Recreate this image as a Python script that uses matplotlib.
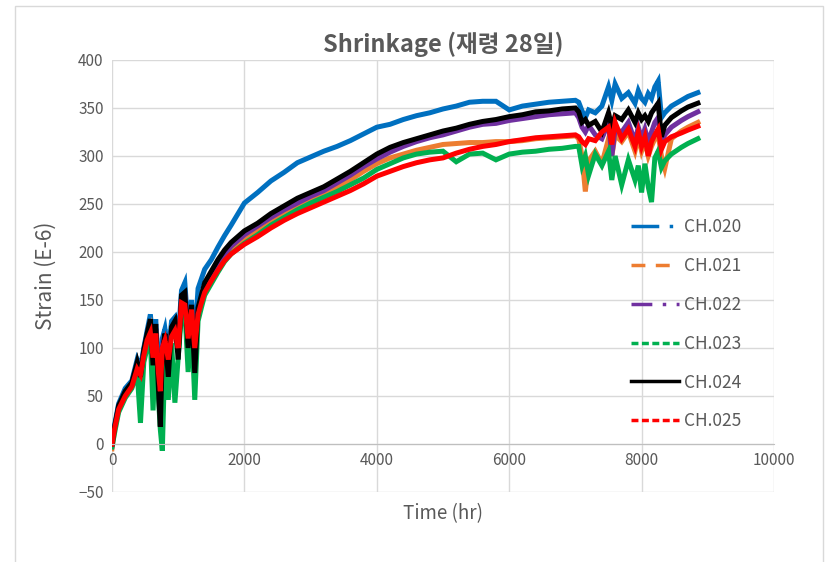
import matplotlib
matplotlib.use("Agg")
import matplotlib.pyplot as plt
from matplotlib.lines import Line2D
from matplotlib.patches import Rectangle

plt.rcParams['font.family'] = ['Noto Sans CJK KR', 'DejaVu Sans']

# 시간 (hr)
time_hr = [0, 40, 100, 200, 300, 380, 430, 480, 530, 580, 620, 660, 700, 730, 760, 800,
           850, 900, 950, 1000, 1050, 1100, 1150, 1200, 1250, 1300, 1350, 1400, 1500, 1600, 1700, 1800,
           2000, 2200, 2400, 2600, 2800, 3000, 3200, 3400, 3600, 3800, 4000, 4200, 4400,
           4600, 4800, 5000, 5200, 5400, 5600, 5800, 6000, 6200, 6400, 6600, 6800, 7000,
           7050, 7100, 7150, 7200, 7300, 7400, 7500, 7550, 7600, 7700, 7800, 7900, 7950,
           8000, 8050, 8100, 8150, 8200, 8250, 8300, 8350, 8450, 8600, 8700, 8850]

# 채널별 변형률 (E-6)
ch020 = [2, 20, 42, 58, 66, 88, 80, 100, 118, 135, 100, 130, 85, 60, 110, 120,
         95, 128, 132, 110, 160, 168, 120, 150, 110, 162, 172, 182, 192, 205, 217, 228,
         251, 262, 274, 283, 293, 299, 305, 310, 316, 323, 330, 333, 338,
         342, 345, 349, 352, 356, 357, 357, 348, 352, 354, 356, 357, 358,
         356, 347, 340, 348, 345, 352, 372, 358, 375, 360, 366, 355, 368,
         360, 356, 365, 360, 372, 378, 340, 345, 352, 358, 362, 366]
ch021 = [-5, 15, 36, 52, 62, 80, 75, 95, 110, 120, 85, 118, 70, 40, 100, 112,
         80, 118, 125, 95, 148, 152, 105, 142, 90, 138, 150, 160, 174, 186, 195, 203,
         214, 223, 232, 240, 247, 254, 260, 267, 275, 284, 292, 298, 302,
         306, 309, 312, 313, 314, 314, 315, 315, 316, 318, 319, 320, 321,
         318, 300, 263, 295, 305, 292, 318, 300, 322, 315, 325, 305, 320,
         305, 315, 300, 310, 318, 322, 300, 287, 318, 326, 330, 335]
ch022 = [-2, 17, 38, 53, 63, 82, 78, 96, 112, 124, 88, 120, 72, 45, 102, 114,
         85, 120, 126, 100, 150, 155, 110, 144, 95, 140, 153, 165, 177, 189, 198, 206,
         218, 227, 236, 244, 251, 258, 264, 272, 280, 289, 297, 304, 310,
         315, 319, 322, 326, 330, 333, 334, 337, 339, 341, 343, 344, 345,
         340, 330, 325, 332, 322, 318, 335, 300, 328, 325, 335, 315, 330,
         318, 328, 315, 325, 335, 340, 312, 322, 330, 337, 341, 346]
ch023 = [-3, 12, 33, 48, 58, 75, 22, 85, 100, 110, 35, 105, 50, 15, -7, 95,
         46, 105, 43, 90, 135, 140, 75, 130, 46, 128, 142, 155, 167, 179, 190, 198,
         209, 218, 228, 236, 244, 251, 257, 263, 270, 277, 286, 292, 298,
         302, 304, 305, 294, 302, 303, 296, 302, 304, 305, 307, 308, 310,
         310, 290, 300, 280, 302, 290, 305, 275, 300, 270, 296, 275, 290,
         262, 292, 268, 252, 298, 305, 288, 295, 302, 309, 313, 318]
ch024 = [0, 18, 40, 55, 64, 85, 70, 98, 115, 130, 82, 125, 60, 18, 95, 115,
         70, 122, 128, 88, 155, 158, 100, 145, 74, 142, 155, 168, 180, 192, 202, 210,
         222, 230, 240, 248, 256, 262, 268, 276, 284, 293, 302, 309, 314,
         318, 322, 326, 329, 333, 336, 338, 341, 343, 346, 347, 349, 350,
         346, 335, 338, 332, 336, 325, 345, 330, 342, 338, 348, 335, 345,
         338, 342, 336, 345, 350, 355, 320, 332, 340, 347, 351, 355]
ch025 = [0, 16, 36, 50, 60, 78, 72, 92, 108, 116, 90, 115, 75, 55, 100, 108,
         88, 112, 118, 100, 147, 145, 110, 140, 100, 135, 147, 158, 170, 181, 191, 198,
         208, 216, 225, 233, 240, 246, 252, 258, 264, 271, 279, 284, 289,
         293, 296, 298, 303, 307, 310, 312, 315, 317, 319, 320, 321, 322,
         320, 315, 312, 318, 316, 325, 330, 312, 335, 318, 328, 310, 325,
         310, 320, 300, 315, 322, 328, 307, 315, 320, 324, 327, 331]

labels = ["CH.020", "CH.021", "CH.022", "CH.023", "CH.024", "CH.025"]
colors = ["#0070C0", "#ED7D31", "#7030A0", "#00B050", "#000000", "#FF0000"]
dashes = [(0, (8, 3, 1, 3, 1, 3)), (0, (4, 3)), (0, (6, 3, 1, 3)),
          (0, (2, 1)), "-", (0, (2, 1))]
series = [ch020, ch021, ch022, ch023, ch024, ch025]

fig = plt.figure(figsize=(8.25, 5.62), dpi=100)
ax = fig.add_axes([112/825, 1-492/562, 662/825, 432/562])

for s, c in zip(series, colors):
    ax.plot(time_hr, s, color=c, lw=3.6, solid_joinstyle="miter")

ax.set_xlim(0, 10000)
ax.set_ylim(-50, 400)
ax.set_xticks(range(0, 10001, 2000))
ax.set_yticks(range(-50, 401, 50))
ax.grid(True, color="#D9D9D9", lw=1)
ax.set_axisbelow(True)
for sp in ["top", "right", "left"]:
    ax.spines[sp].set_visible(False)
ax.spines["bottom"].set_position(("data", 0))
ax.spines["bottom"].set_color("#BFBFBF")
ax.tick_params(length=0, labelsize=11, labelcolor="#595959", pad=6)

ax.set_title("Shrinkage (재령 28일)", fontsize=17, fontweight="bold",
             color="#595959", pad=6)
ax.set_xlabel("Time (hr)", fontsize=13.5, color="#595959")
ax.xaxis.set_label_coords(0.5, -0.025)
ax.set_ylabel("Strain (E-6)", fontsize=15, color="#595959")
ax.yaxis.set_label_coords(-0.083, 0.5)

handles = [Line2D([], [], color=c, ls=d, lw=2.5) for c, d in zip(colors, dashes)]
leg = ax.legend(handles, labels, loc="upper left", bbox_to_anchor=(0.76, 0.67),
                frameon=False, fontsize=12.5, labelspacing=1.2, handlelength=2.8,
                handletextpad=0.25)
for t in leg.get_texts():
    t.set_color("#595959")

# 차트 테두리
fig.patches.append(Rectangle((15/825, -0.1), 808/825, 1.1 - 6/562, transform=fig.transFigure,
                             fill=False, edgecolor="#D9D9D9", lw=1))

plt.savefig("out.png", dpi=100)
